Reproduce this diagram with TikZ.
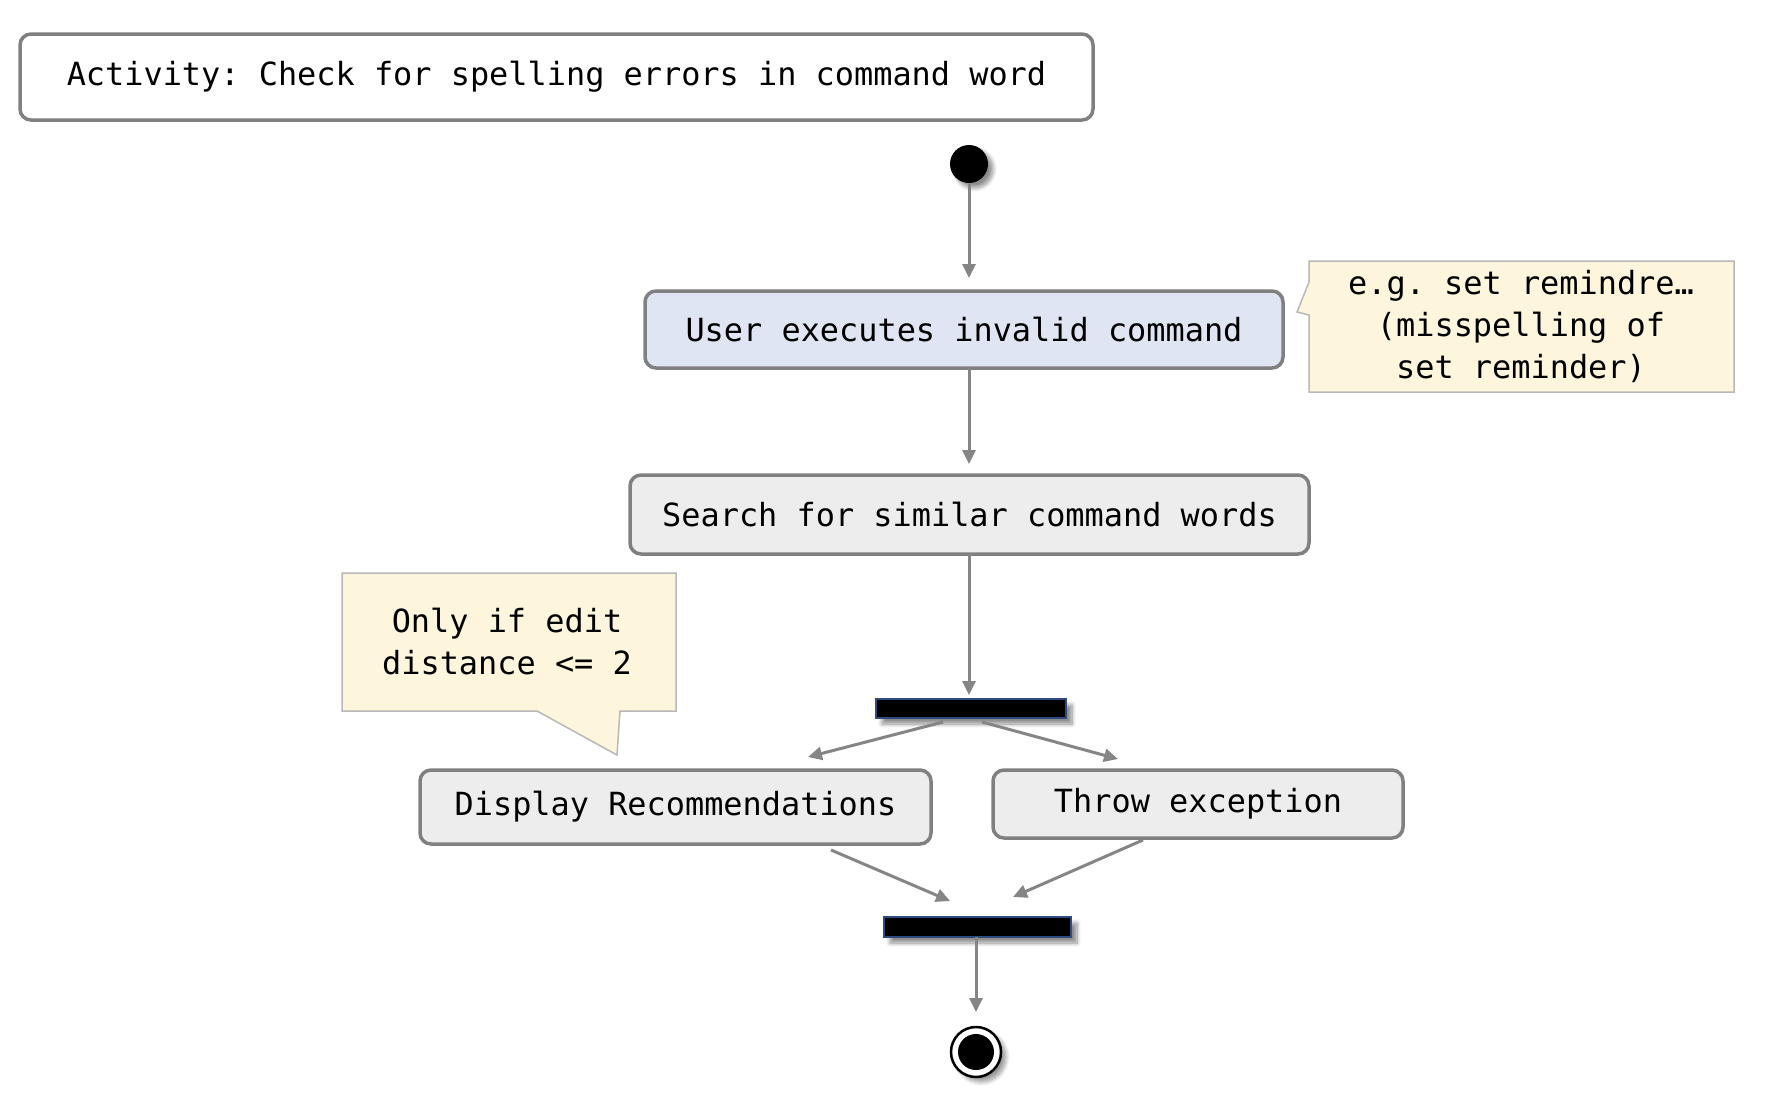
\documentclass[tikz,border=0pt]{standalone}
\usepackage{fontspec}
\setmainfont{DejaVu Sans Mono}
\usetikzlibrary{arrows.meta,shadows,shadows.blur,calc}
\definecolor{bordergray}{HTML}{808080}
\definecolor{arrowgray}{HTML}{858585}
\definecolor{bluefill}{HTML}{DFE5F2}
\definecolor{grayfill}{HTML}{EDEDED}
\definecolor{notefill}{HTML}{FDF5DC}
\definecolor{noteborder}{HTML}{B8B8B8}
\definecolor{barborder}{HTML}{2F4A7F}
\frenchspacing
\begin{document}
\begin{tikzpicture}[x=1pt,y=-1pt,
  every node/.style={font=\fontsize{31.9}{42}\selectfont, inner sep=0pt, outer sep=0pt},
  actbox/.style={draw=bordergray, line width=3.5pt, rounded corners=11pt, align=center},
  notebox/.style={draw=noteborder, fill=notefill, line width=1.5pt},
  bar/.style={draw=barborder, fill=black, line width=1.5pt,
    blur shadow={shadow xshift=6pt, shadow yshift=-6pt, shadow blur radius=4pt, shadow blur steps=8, shadow opacity=45}},
  arr/.style={draw=arrowgray, line width=3pt, -{Triangle[length=14pt,width=13pt]}}
]
\useasboundingbox (0,0) rectangle (1770,1096);

% title
\node[actbox, fill=white, minimum width=1073pt, minimum height=86pt] (title) at (556.5,77) {\frenchspacing Activity: Check for spelling errors in command word};

% start
\node[circle, fill=black, minimum size=38pt,
  blur shadow={shadow xshift=5pt, shadow yshift=-5pt, shadow blur radius=4pt, shadow blur steps=8, shadow opacity=45}] (start) at (969,164) {};

% activities
\node[actbox, fill=bluefill, minimum width=638pt, minimum height=77pt] (box1) at (964,329.5) {User executes invalid command};
\node[actbox, fill=grayfill, minimum width=679pt, minimum height=79pt] (box2) at (969.5,514.5) {Search for similar command words};
\node[bar, minimum width=190pt, minimum height=19pt] (bar1) at (971,708.5) {};
\node[actbox, fill=grayfill, minimum width=511pt, minimum height=74pt] (box3) at (675.5,807) {Display Recommendations};
\node[actbox, fill=grayfill, minimum width=410pt, minimum height=68pt] (box4) at (1198,804) {Throw exception};
\node[bar, minimum width=187pt, minimum height=20pt] (bar2) at (977.5,927) {};

% end
\node[circle, draw=black, fill=white, line width=2.5pt, minimum size=50pt,
  blur shadow={shadow xshift=5pt, shadow yshift=-5pt, shadow blur radius=4pt, shadow blur steps=8, shadow opacity=40}] (end) at (976,1052) {};
\node[circle, fill=black, minimum size=36pt] (endin) at (end.center) {};

% notes
\path[notebox] (1309,261) -- (1734,261) -- (1734,392) -- (1309,392) -- (1309,315) -- (1297,312) -- (1309,282) -- cycle;
\node[align=center] (note1) at (1521,326) {\frenchspacing e.g. set remindre…\\(misspelling of\\set reminder)};
\path[notebox] (342,573) -- (676,573) -- (676,711) -- (620,711) -- (617,755) -- (537,711) -- (342,711) -- cycle;
\node[align=center] (note2) at (507,642) {Only if edit\\distance <= 2};

% connectors
\coordinate (f1) at (808,757);
\coordinate (f2) at (1118,759);
\coordinate (j1) at (950,901);
\coordinate (j2) at (1013,897);

\draw[arr, shorten <=1pt, shorten >=13pt] (start.south) -- (box1.north -| start.south);
\draw[arr, shorten >=11pt] (box1.south -| start.south) -- (box2.north -| start.south);
\draw[arr, shorten >=4pt] (box2.south -| start.south) -- (bar1.north -| start.south);
\draw[arr] ([xshift=-28pt,yshift=-4pt]bar1.south) -- (f1);
\draw[arr] ([xshift=11pt,yshift=-4pt]bar1.south) -- (f2);
\draw[arr] ([xshift=155.5pt,yshift=-6pt]box3.south) -- (j1);
\draw[arr] ([xshift=-55pt,yshift=-2pt]box4.south) -- (j2);
\draw[arr, shorten >=15pt] (bar2.south -| end.center) -- (end.north);
\end{tikzpicture}
\end{document}
